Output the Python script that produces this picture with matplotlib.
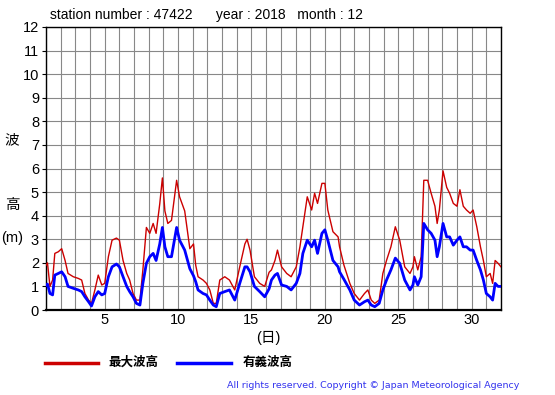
import matplotlib
matplotlib.use("Agg")
import matplotlib.pyplot as plt

plt.rcParams['font.family'] = ['Liberation Sans', 'Noto Sans CJK JP', 'DejaVu Sans']

days = [1.0, 1.1, 1.27, 1.45, 1.6, 1.84, 2.07, 2.3, 2.5, 2.86, 3.2, 3.43, 3.65, 3.9,
        4.1, 4.33, 4.56, 4.8, 5.0, 5.25, 5.5, 5.8, 6.0, 6.25, 6.5, 6.7, 6.93, 7.16,
        7.4, 7.6, 7.84, 8.07, 8.3, 8.5, 8.75, 8.93, 9.1, 9.3, 9.55, 9.9, 10.1, 10.45,
        10.8, 11.05, 11.2, 11.36, 11.7, 11.93, 12.16, 12.4, 12.6, 12.84, 13.18, 13.5,
        13.86, 14.2, 14.55, 14.7, 14.9, 15.2, 15.56, 15.9, 16.2, 16.36, 16.6, 16.77,
        17.05, 17.4, 17.7, 18.05, 18.3, 18.5, 18.8, 19.1, 19.3, 19.5, 19.8, 20.0,
        20.2, 20.55, 20.9, 21.0, 21.3, 21.7, 22.0, 22.36, 22.7, 22.93, 23.16, 23.4,
        23.7, 23.95, 24.2, 24.5, 24.8, 25.1, 25.44, 25.8, 26.0, 26.1, 26.33, 26.56,
        26.74, 27.0, 27.24, 27.5, 27.65, 27.8, 28.05, 28.3, 28.5, 28.75, 29.0, 29.2,
        29.43, 29.65, 29.9, 30.1, 30.35, 30.6, 30.8, 31.0, 31.26, 31.43, 31.6, 31.8, 32.0]

max_wave = [1.9, 2.0, 1.0, 1.27, 2.4, 2.47, 2.6, 2.1, 1.55, 1.41, 1.34, 1.27, 0.7, 0.42,
            0.28, 0.85, 1.48, 1.06, 1.13, 2.26, 2.96, 3.05, 2.96, 2.1, 1.55, 1.27, 0.7, 0.42,
            0.42, 1.7, 3.5, 3.25, 3.67, 3.25, 4.5, 5.6, 4.2, 3.67, 3.8, 5.5, 4.8, 4.2,
            2.6, 2.8, 1.9, 1.41, 1.27, 1.13, 0.85, 0.28, 0.28, 1.27, 1.41, 1.27,
            0.85, 1.83, 2.8, 3.0, 2.54, 1.41, 1.13, 1.0, 1.6, 1.7, 2.1, 2.54,
            1.83, 1.55, 1.41, 1.83, 2.68, 3.53, 4.8, 4.24, 4.95, 4.52, 5.37, 5.37,
            4.24, 3.32, 3.1, 2.68, 1.9, 1.13, 0.7, 0.42, 0.7, 0.85, 0.42, 0.28,
            0.42, 1.55, 2.1, 2.68, 3.53, 2.96, 1.83, 1.55, 1.83, 2.26, 1.7, 2.26,
            5.5, 5.5, 4.95, 4.4, 3.67, 4.24, 5.9, 5.2, 4.95, 4.52, 4.4, 5.1,
            4.4, 4.24, 4.1, 4.24, 3.53, 2.68, 2.1, 1.41, 1.55, 1.13, 2.1, 1.98, 1.83]

sig_wave = [1.05, 1.1, 0.7, 0.64, 1.48, 1.55, 1.62, 1.41, 1.0, 0.92, 0.85, 0.78, 0.56, 0.35,
            0.17, 0.56, 0.78, 0.64, 0.7, 1.41, 1.83, 1.95, 1.83, 1.41, 1.0, 0.78, 0.56, 0.28,
            0.21, 1.13, 1.98, 2.26, 2.4, 2.1, 2.8, 3.5, 2.68, 2.26, 2.26, 3.5, 2.96, 2.54,
            1.75, 1.45, 1.2, 0.85, 0.7, 0.64, 0.42, 0.21, 0.14, 0.7, 0.78, 0.85,
            0.42, 1.13, 1.83, 1.83, 1.62, 1.0, 0.78, 0.56, 0.9, 1.27, 1.48, 1.55,
            1.06, 1.0, 0.85, 1.13, 1.55, 2.4, 2.96, 2.68, 2.96, 2.4, 3.25, 3.4,
            2.96, 2.1, 1.83, 1.62, 1.3, 0.85, 0.42, 0.21, 0.35, 0.42, 0.21, 0.14,
            0.28, 0.85, 1.27, 1.7, 2.2, 1.98, 1.27, 0.85, 1.06, 1.41, 1.06, 1.41,
            3.67, 3.4, 3.25, 2.96, 2.26, 2.68, 3.67, 3.1, 3.1, 2.75, 2.96, 3.1,
            2.68, 2.68, 2.54, 2.54, 2.1, 1.7, 1.27, 0.7, 0.56, 0.42, 1.13, 1.0, 1.0]

x_ticks = [5, 10, 15, 20, 25, 30]
y_ticks = list(range(0, 13))

fig = plt.figure(figsize=(5.55, 3.95), dpi=100)
ax = fig.add_axes([46/555, 85/395, 455/555, 283/395])

ax.plot(days, max_wave, color='#cc0000', lw=1.0, zorder=3)
ax.plot(days, sig_wave, color='#0000ff', lw=2.0, zorder=4)

ax.set_xlim(1, 32)
ax.set_ylim(0, 12)
ax.set_xticks(range(1, 33), minor=True)
ax.set_xticks(x_ticks)
ax.set_yticks(y_ticks)
ax.grid(True, which='both', color='#888888', lw=0.8)
ax.tick_params(axis='x', which='both', length=0, labelsize=10.5, pad=2)
ax.tick_params(axis='y', length=3, labelsize=10.5, pad=2)
for s in ax.spines.values():
    s.set_color('black')
    s.set_linewidth(1.0)
ax.spines['bottom'].set_linewidth(1.6)

fig.text(50/555, 1 - 15/395, 'station number : 47422      year : 2018   month : 12',
         fontsize=10, va='center', ha='left')
fig.text(12/555, 1 - 140/395, '波', fontsize=10.5, ha='center', va='center')
fig.text(12/555, 1 - 205/395, '高', fontsize=10.5, ha='center', va='center')
fig.text(12/555, 1 - 238/395, '(m)', fontsize=10.5, ha='center', va='center')
fig.text(268/555, 1 - 338/395, '(日)', fontsize=10.5, ha='center', va='center')

fig.add_artist(plt.Line2D([45/555, 98/555], [1 - 363/395, 1 - 363/395], color='#cc0000', lw=2.5))
fig.text(108/555, 1 - 363/395, '最大波高', fontsize=9, fontweight='bold', ha='left', va='center')
fig.add_artist(plt.Line2D([177/555, 231/555], [1 - 363/395, 1 - 363/395], color='#0000ff', lw=2.5))
fig.text(243/555, 1 - 363/395, '有義波高', fontsize=9, fontweight='bold', ha='left', va='center')
fig.text(227/555, 1 - 385/395, 'All rights reserved. Copyright © Japan Meteorological Agency',
         fontsize=6.8, color='#3333ee', ha='left', va='center', family=['DejaVu Sans'])

fig.savefig('out.png', dpi=100)
